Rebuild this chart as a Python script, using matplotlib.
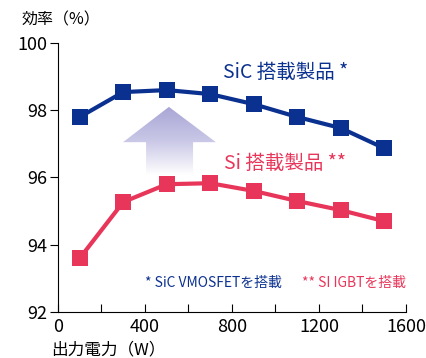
import numpy as np
import matplotlib.pyplot as plt
from matplotlib.patches import Polygon

plt.rcParams['font.family'] = ['Noto Sans CJK JP', 'DejaVu Sans']

# output power (W) and efficiency (%)
power = [100, 300, 500, 700, 900, 1100, 1300, 1500]
eff_sic = [97.80, 98.54, 98.60, 98.48, 98.18, 97.80, 97.47, 96.87]
eff_si = [93.60, 95.27, 95.80, 95.83, 95.60, 95.30, 95.03, 94.70]

blue = '#0b3190'
pink = '#e8365a'

fig = plt.figure(figsize=(4.27, 3.58), dpi=100)
ax = fig.add_axes([0.1358, 0.1285, 0.815, 0.7514])

# up arrow with a lavender-to-white gradient
arrow = [(405, 96.07), (405, 97.05), (299, 97.05), (510, 98.10),
         (726, 97.05), (621, 97.05), (621, 96.07)]
poly = Polygon(arrow, closed=True, facecolor='none', edgecolor='none')
ax.add_patch(poly)
grad = np.linspace(0, 1, 256).reshape(-1, 1)
cmap = plt.matplotlib.colors.LinearSegmentedColormap.from_list(
    'up', ['#ffffff', '#c9c7e6', '#a8a5d5'])
img = ax.imshow(grad, cmap=cmap, extent=[299, 726, 96.07, 98.10],
                origin='lower', aspect='auto', zorder=1)
img.set_clip_path(poly)

ax.plot(power, eff_sic, color=blue, lw=3, marker='s', ms=12,
        markeredgewidth=0, zorder=3)
ax.plot(power, eff_si, color=pink, lw=3, marker='s', ms=12,
        markeredgewidth=0, zorder=3)

ax.set_xlim(0, 1600)
ax.set_ylim(92, 100)
ax.set_xticks(np.arange(0, 1601, 200))
ax.set_xticklabels(['0', '', '400', '', '800', '', '1200', '', '1600'])
ax.set_yticks([92, 94, 96, 98, 100])
ax.spines['top'].set_visible(False)
ax.spines['right'].set_visible(False)
ax.tick_params(axis='x', direction='in', length=6, labelsize=13, pad=4)
ax.tick_params(axis='y', direction='out', length=6, labelsize=13, pad=2)

ax.text(759, 99.12, 'SiC 搭載製品 *', color=blue, fontsize=14, va='center')
ax.text(763, 96.42, 'Si 搭載製品 **', color=pink, fontsize=14, va='center')
ax.text(400, 92.85, '* SiC VMOSFETを搭載', color=blue, fontsize=10,
        va='center')
ax.text(1122, 92.85, '** SI IGBTを搭載', color=pink, fontsize=10,
        va='center')

fig.text(0.05, 0.945, '効率（%）', fontsize=11.5, va='center')
fig.text(0.12, 0.022, '出力電力（W）', fontsize=12, va='center')

fig.savefig('out.png', dpi=100)
